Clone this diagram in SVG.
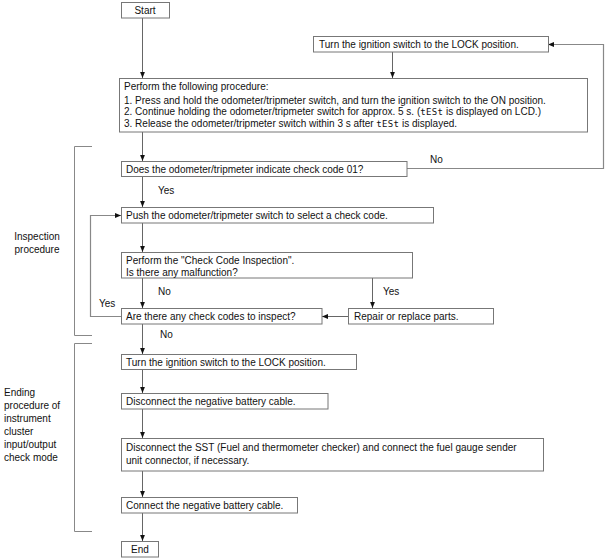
<svg xmlns="http://www.w3.org/2000/svg" width="607" height="560" viewBox="0 0 607 560">
<style>
.box{fill:#fff;stroke:#777;stroke-width:1}
.t{font-family:"Liberation Sans",Arial,sans-serif;font-size:10px;fill:#111}
.c{fill:none;stroke:#666;stroke-width:1}
.lp{fill:none;stroke:#888;stroke-width:1.2}
.br{fill:none;stroke:#888;stroke-width:1}
.lcd{font-family:"DejaVu Sans Mono",monospace;font-size:9px;letter-spacing:0.3px}
</style>
<defs>
<marker id="ah" viewBox="0 0 6 6" refX="6" refY="3" markerWidth="6" markerHeight="6" markerUnits="userSpaceOnUse" orient="auto">
<path d="M0,0.6 L6,3 L0,5.4 Z" fill="#111"/>
</marker>
</defs>
<rect width="607" height="560" fill="#fff"/>
<g id="connectors">
<path class="c" d="M142.5,18 V78" marker-end="url(#ah)"/>
<path class="c" d="M392.5,52 V78" marker-end="url(#ah)"/>
<path class="c" d="M142.5,132 V161" marker-end="url(#ah)"/>
<path class="c" d="M142.5,176 V207" marker-end="url(#ah)"/>
<path class="c" d="M142.5,223 V252" marker-end="url(#ah)"/>
<path class="c" d="M142.5,278 V308" marker-end="url(#ah)"/>
<path class="c" d="M372.5,278 V308" marker-end="url(#ah)"/>
<path class="c" d="M348,316.5 H322" marker-end="url(#ah)"/>
<path class="lp" d="M121,316.5 H90.5 V215.5 H121" marker-end="url(#ah)"/>
<path class="lp" d="M407,168.5 H603.5 V44.5 H548" marker-end="url(#ah)"/>
<path class="c" d="M142.5,324 V354" marker-end="url(#ah)"/>
<path class="c" d="M142.5,369 V393" marker-end="url(#ah)"/>
<path class="c" d="M142.5,409 V438" marker-end="url(#ah)"/>
<path class="c" d="M142.5,471 V497" marker-end="url(#ah)"/>
<path class="c" d="M142.5,513 V541" marker-end="url(#ah)"/>
<text class="t" x="430" y="163">No</text>
<text class="t" x="158" y="194">Yes</text>
<text class="t" x="158" y="295">No</text>
<text class="t" x="383" y="295">Yes</text>
<text class="t" x="99" y="307">Yes</text>
<text class="t" x="160" y="338">No</text>
</g>
<g id="bracket-inspection">
<path class="br" d="M92,146.5 H74.5 V335.5 H92"/>
<text class="t" x="37" y="240" text-anchor="middle">Inspection</text>
<text class="t" x="37" y="253" text-anchor="middle">procedure</text>
</g>
<g id="bracket-ending">
<path class="br" d="M92,343.5 H74.5 V531.5 H92"/>
<text class="t" x="4" y="396">Ending</text>
<text class="t" x="4" y="409">procedure of</text>
<text class="t" x="4" y="422">instrument</text>
<text class="t" x="4" y="435">cluster</text>
<text class="t" x="4" y="448">input/output</text>
<text class="t" x="4" y="461">check mode</text>
</g>
<g id="start">
<rect class="box" x="121.5" y="2.5" width="48" height="15.5"/>
<text class="t" x="145" y="14" text-anchor="middle">Start</text>
</g>
<g id="lock1">
<rect class="box" x="313.5" y="36.5" width="235" height="15.5"/>
<text class="t" x="319" y="48">Turn the ignition switch to the LOCK position.</text>
</g>
<g id="procedure">
<rect class="box" x="119.5" y="78.5" width="468" height="53.5"/>
<text class="t" x="124" y="89.5">Perform the following procedure:</text>
<text class="t" x="124" y="103.5">1. Press and hold the odometer/tripmeter switch, and turn the ignition switch to the ON position.</text>
<text class="t" x="124" y="115">2. Continue holding the odometer/tripmeter switch for approx. 5 s. (<tspan class="lcd">tESt</tspan> is displayed on LCD.)</text>
<text class="t" x="124" y="126.5">3. Release the odometer/tripmeter switch within 3 s after <tspan class="lcd">tESt</tspan> is displayed.</text>
</g>
<g id="check01">
<rect class="box" x="121.5" y="161.5" width="285.5" height="15"/>
<text class="t" x="126" y="172.5">Does the odometer/tripmeter indicate check code 01?</text>
</g>
<g id="push">
<rect class="box" x="121.5" y="207.5" width="312" height="15.5"/>
<text class="t" x="126" y="219">Push the odometer/tripmeter switch to select a check code.</text>
</g>
<g id="inspect">
<rect class="box" x="121.5" y="252.5" width="291" height="25.5"/>
<text class="t" x="126" y="264">Perform the "Check Code Inspection".</text>
<text class="t" x="126" y="275.5">Is there any malfunction?</text>
</g>
<g id="more">
<rect class="box" x="121.5" y="308.5" width="200.5" height="15.5"/>
<text class="t" x="126" y="320">Are there any check codes to inspect?</text>
</g>
<g id="repair">
<rect class="box" x="348.5" y="308.5" width="145" height="15.5"/>
<text class="t" x="354" y="320">Repair or replace parts.</text>
</g>
<g id="lock2">
<rect class="box" x="121.5" y="354.5" width="235" height="15"/>
<text class="t" x="126" y="365.5">Turn the ignition switch to the LOCK position.</text>
</g>
<g id="disconnect">
<rect class="box" x="121.5" y="393.5" width="206.5" height="15.5"/>
<text class="t" x="126" y="405">Disconnect the negative battery cable.</text>
</g>
<g id="sst">
<rect class="box" x="121.5" y="438.5" width="422" height="32.5"/>
<text class="t" x="126" y="451">Disconnect the SST (Fuel and thermometer checker) and connect the fuel gauge sender</text>
<text class="t" x="126" y="463.5">unit connector, if necessary.</text>
</g>
<g id="connect">
<rect class="box" x="121.5" y="497.5" width="176" height="15.5"/>
<text class="t" x="126" y="509">Connect the negative battery cable.</text>
</g>
<g id="end">
<rect class="box" x="121.5" y="541.5" width="37" height="15.5"/>
<text class="t" x="140" y="553" text-anchor="middle">End</text>
</g>
</svg>
